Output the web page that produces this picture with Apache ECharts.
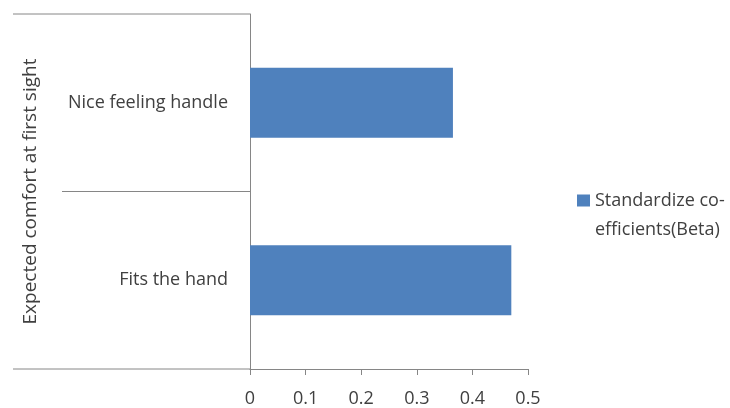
<!DOCTYPE html>
<html>
<head>
<meta charset="utf-8">
<script src="https://cdn.jsdelivr.net/npm/echarts@6/dist/echarts.min.js"></script>
<style>
  html, body { margin: 0; padding: 0; background: #fff; }
  #chart { width: 730px; height: 408px; }
</style>
</head>
<body>
<div id="chart"></div>
<script>
// Regression weights for the "expected comfort at first sight" factors
const categories = ['Fits the hand', 'Nice feeling handle'];
const betaValues = [0.47, 0.365];
const seriesName = 'Standardize co-efficients(Beta)';
const legendLines = ['Standardize co-', 'efficients(Beta)'];
const groupName = 'Expected comfort at first sight';
const xTicks = [0, 0.1, 0.2, 0.3, 0.4, 0.5];

const FONT = 'Open Sans';
const FS = 18;
const TEXT = '#404040';
const LINE = '#868686';

const chart = echarts.init(document.getElementById('chart'), null, { renderer: 'canvas' });

chart.setOption({
  animation: false,
  backgroundColor: '#fff',
  textStyle: { fontFamily: FONT },
  grid: { left: 250, right: 202, top: 14, bottom: 39 },
  legend: {
    left: 572,
    top: 152,
    itemWidth: 13,
    itemHeight: 12,
    itemGap: 0,
    icon: 'rect',
    // blank leading line keeps the swatch level with the first text line
    formatter: () => '\n' + legendLines.join('\n'),
    textStyle: { fontFamily: FONT, fontSize: FS, color: TEXT, lineHeight: 29 },
    data: [seriesName]
  },
  xAxis: {
    type: 'value',
    min: xTicks[0],
    max: xTicks[xTicks.length - 1],
    interval: 0.1,
    axisLine: { show: true, lineStyle: { color: LINE, width: 1 } },
    axisTick: { show: true, length: 6, lineStyle: { color: LINE } },
    splitLine: { show: false },
    axisLabel: { fontFamily: FONT, fontSize: FS, color: TEXT, margin: 21 }
  },
  yAxis: {
    type: 'category',
    data: categories,
    name: groupName,
    nameLocation: 'middle',
    nameGap: 210,
    nameRotate: 90,
    nameTextStyle: { fontFamily: FONT, fontSize: 19, color: TEXT },
    axisLine: { show: true, lineStyle: { color: LINE, width: 1 } },
    axisTick: { show: false },
    axisLabel: { fontFamily: FONT, fontSize: FS, color: TEXT, margin: 22 }
  },
  series: [{
    name: seriesName,
    type: 'bar',
    data: betaValues,
    barWidth: 70,
    itemStyle: { color: '#4F81BD' }
  }]
});

// Category-group brackets: outer top/bottom rules and the divider between the two categories
function drawBrackets() {
  const x0 = chart.convertToPixel({ xAxisIndex: 0 }, 0);
  const grid = chart.getModel().getComponent('grid', 0).coordinateSystem.getRect();
  const top = grid.y;
  const bottom = grid.y + grid.height;
  const mid = (top + bottom) / 2;
  const style = { stroke: LINE, lineWidth: 1 };
  chart.setOption({
    graphic: [
      { type: 'line', shape: { x1: 13, y1: top, x2: x0, y2: top }, style },
      { type: 'line', shape: { x1: 62, y1: mid, x2: x0, y2: mid }, style },
      { type: 'line', shape: { x1: 13, y1: bottom, x2: x0, y2: bottom }, style }
    ]
  });
}
drawBrackets();
</script>
</body>
</html>
